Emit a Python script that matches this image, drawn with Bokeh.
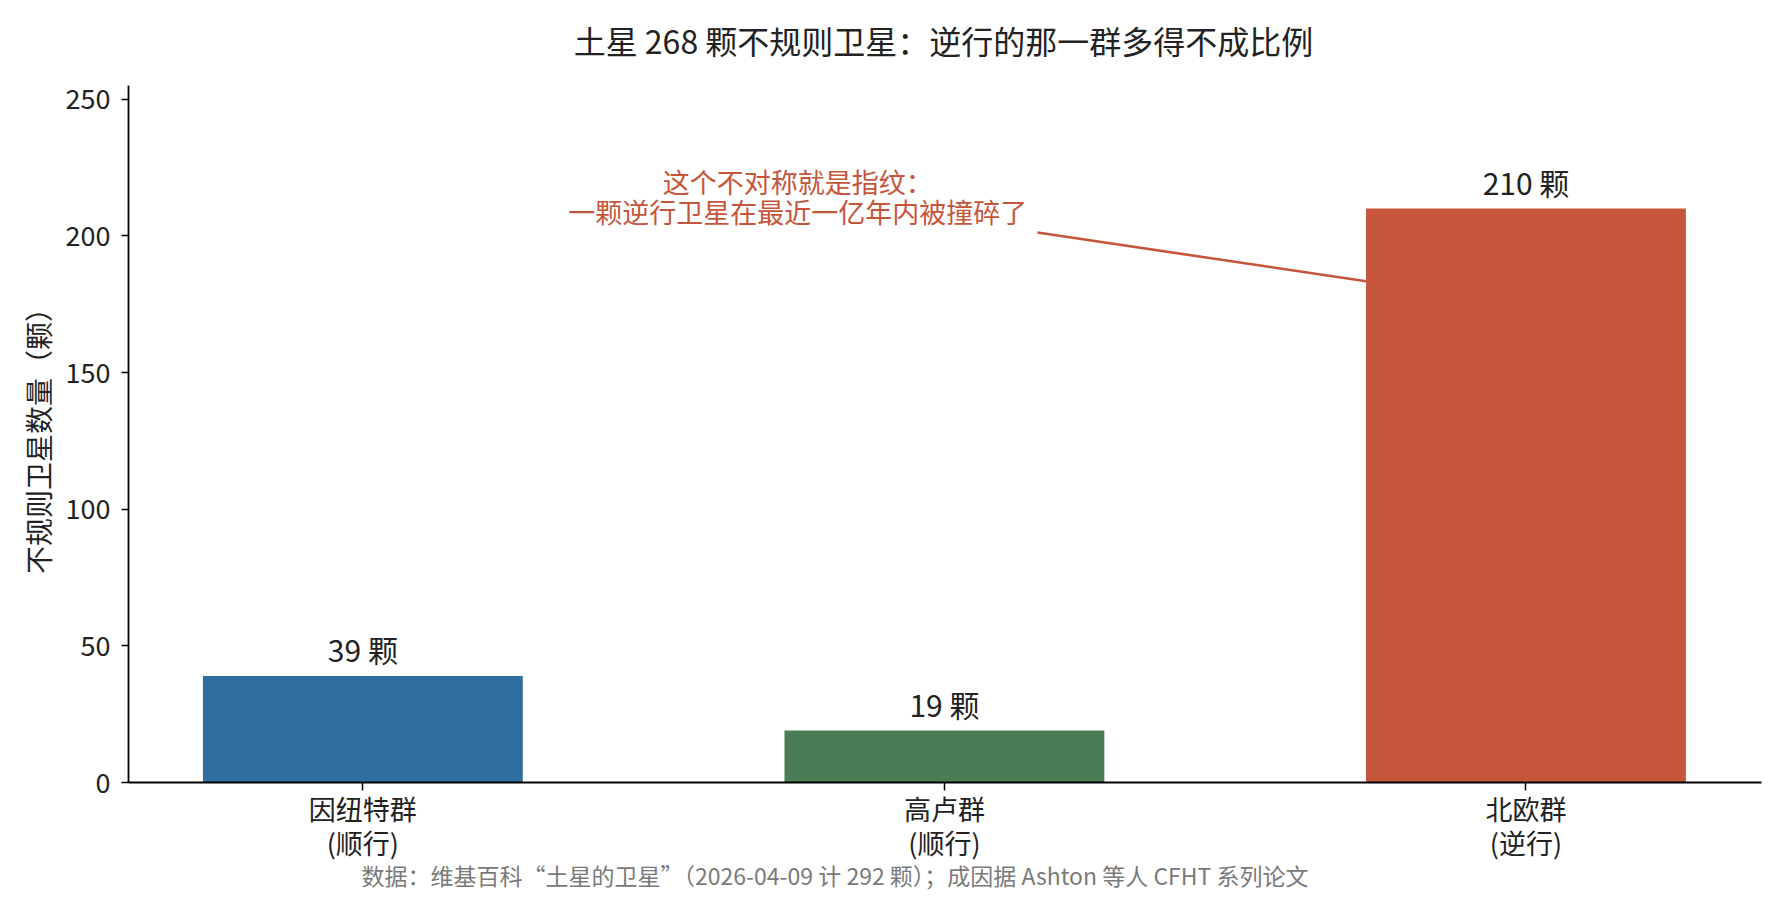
from bokeh.plotting import figure
from bokeh.models import Range1d, FixedTicker, Label
from bokeh.embed import file_html
from bokeh.resources import INLINE
from bokeh.core.properties import value

# ---- data ----
categories = ["因纽特群\n(顺行)", "高卢群\n(顺行)", "北欧群\n(逆行)"]
counts = [39, 19, 210]
bar_colors = ["#2f6e9e", "#4a7c55", "#c5553b"]
value_labels = [f"{c} 颗" for c in counts]
y_ticks = [0, 50, 100, 150, 200, 250]
title_text = "土星 268 颗不规则卫星：逆行的那一群多得不成比例"
y_label = "不规则卫星数量（颗）"
note_lines = ["这个不对称就是指纹：", "一颗逆行卫星在最近一亿年内被撞碎了"]
footnote = "数据：维基百科“土星的卫星”（2026-04-09 计 292 颗）；成因据 Ashton 等人 CFHT 系列论文"

FONT = "Noto Sans CJK SC"
DARK = "#222222"
RED = "#c5553b"

xs = list(range(len(categories)))

p = figure(width=1769, height=902, output_backend="svg", toolbar_location=None,
           x_range=Range1d(-0.403, 2.405), y_range=Range1d(0, 255),
           min_border_left=128, min_border_right=8, min_border_top=85,
           min_border_bottom=120)
p.title = None
p.outline_line_color = None
p.xgrid.visible = False
p.ygrid.visible = False
p.background_fill_color = "white"
p.border_fill_color = "white"

p.vbar(x=xs, top=counts, width=0.55, fill_color=bar_colors, line_color=None)

p.text(x=xs, y=counts, text=value_labels, text_align="center", text_baseline="middle",
       y_offset=-27, text_font=value(FONT), text_font_size="30px", text_color=DARK)

# annotation
p.text(x=[0.748, 0.748], y=[220, 209], text=note_lines, text_align="center",
       text_baseline="middle", text_font=value(FONT), text_font_size="27px",
       text_color=RED)
p.line(x=[1.16, 1.725], y=[201.2, 183.4], line_color=RED, line_width=2.6)

# title and footnote
p.add_layout(Label(x=815, y=46, x_units="screen", y_units="screen", text=title_text,
                   text_align="center", text_baseline="middle", text_font=FONT,
                   text_font_size="32px", text_color=DARK), "above")
p.add_layout(Label(x=233, y=24, x_units="screen", y_units="screen", text=footnote,
                   text_align="left", text_baseline="middle", text_font=FONT,
                   text_font_size="23px", text_color="#7a7a7a"), "below")

# axes
p.xaxis.ticker = FixedTicker(ticks=xs)
p.xaxis.major_label_overrides = {i: c for i, c in zip(xs, categories)}
p.yaxis.ticker = FixedTicker(ticks=y_ticks)
for ax in (p.xaxis, p.yaxis):
    ax.axis_line_color = "black"
    ax.axis_line_width = 1.8
    ax.major_tick_line_color = "black"
    ax.major_tick_line_width = 1.5
    ax.major_tick_in = 0
    ax.minor_tick_line_color = None
    ax.major_label_text_font = FONT
    ax.major_label_text_font_size = "27px"
    ax.major_label_text_color = DARK
p.xaxis.major_label_text_line_height = 0.88
p.xaxis.major_tick_out = 8
p.yaxis.major_tick_out = 7
p.xaxis.major_label_standoff = -2
p.yaxis.major_label_standoff = 11
p.yaxis.axis_label = y_label
p.yaxis.axis_label_text_font = FONT
p.yaxis.axis_label_text_font_size = "28px"
p.yaxis.axis_label_text_font_style = "normal"
p.yaxis.axis_label_text_color = DARK
p.yaxis.axis_label_standoff = 5

open("out.html", "w").write(file_html(p, INLINE))
